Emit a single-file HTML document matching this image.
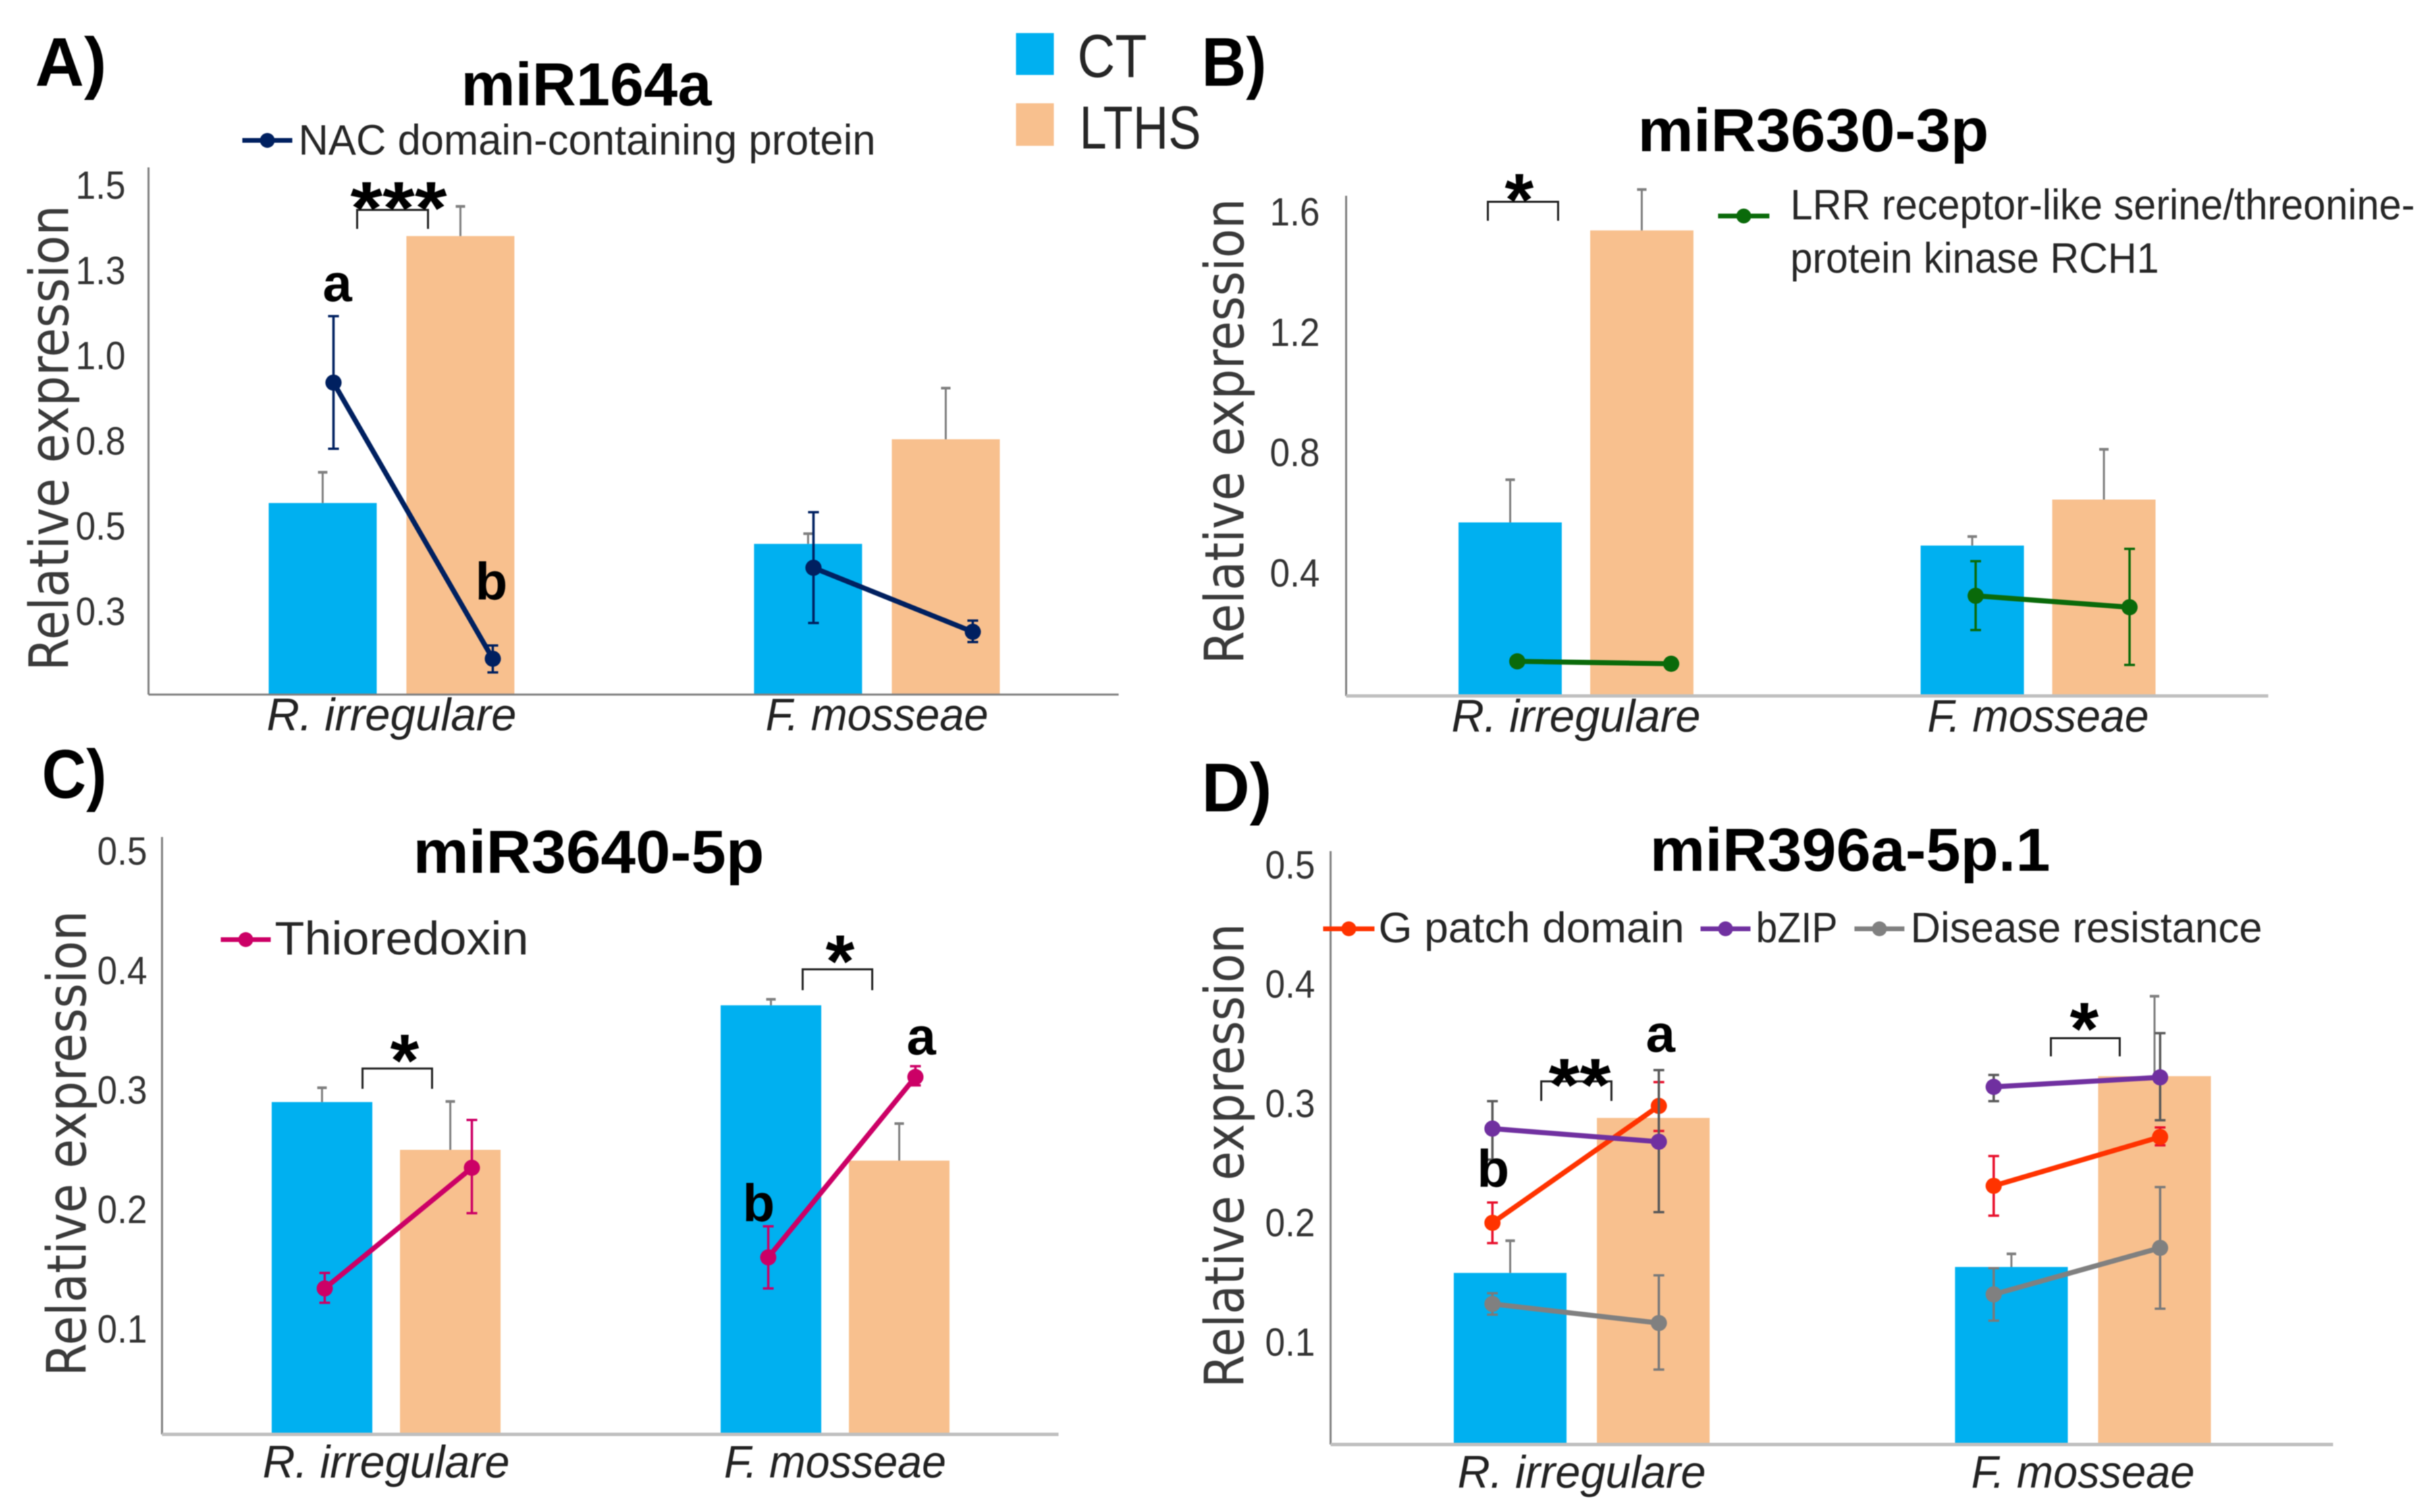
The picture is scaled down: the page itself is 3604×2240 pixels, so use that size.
<!DOCTYPE html>
<html lang="en">
<head>
<meta charset="utf-8">
<title>miRNA relative expression panels</title>
<style>
html,body{margin:0;padding:0;background:#fff;}
svg{display:block;filter:blur(0.7px);}
text{font-family:"Liberation Sans",sans-serif;}
.panel-letter,.chart-title{font-weight:bold;fill:#000;}
.panel-letter{font-size:102px;}
.chart-title{font-size:90px;}
.legend-text{font-size:63px;fill:#262626;}
.y-title{font-family:"DejaVu Sans",sans-serif;font-size:80px;fill:#3a3a3a;}
.sig{font-weight:bold;font-size:110px;fill:#000;}
.sig-letter{font-weight:bold;font-size:78px;fill:#000;}
.bracket{fill:none;stroke:#222;stroke-width:3;}
</style>
</head>
<body>
<svg id="figure" xmlns="http://www.w3.org/2000/svg" width="3604" height="2240" viewBox="0 0 3604 2240">
<rect x="0" y="0" width="3604" height="2240" fill="#fff"/>

<text class="panel-letter" x="52" y="127" textLength="106" lengthAdjust="spacingAndGlyphs">A)</text>
<text class="panel-letter" x="1780" y="127" textLength="96" lengthAdjust="spacingAndGlyphs">B)</text>
<text class="panel-letter" x="62" y="1182" textLength="96" lengthAdjust="spacingAndGlyphs">C)</text>
<text class="panel-letter" x="1780" y="1202" textLength="104" lengthAdjust="spacingAndGlyphs">D)</text>

<text class="chart-title" x="683" y="156" textLength="371" lengthAdjust="spacingAndGlyphs">miR164a</text>
<text class="chart-title" x="2426" y="224" textLength="520" lengthAdjust="spacingAndGlyphs">miR3630-3p</text>
<text class="chart-title" x="612" y="1293" textLength="520" lengthAdjust="spacingAndGlyphs">miR3640-5p</text>
<text class="chart-title" x="2444" y="1290" textLength="593" lengthAdjust="spacingAndGlyphs">miR396a-5p.1</text>

<g>
  <rect x="1505" y="49" width="56" height="62" fill="#00b0f0"/>
  <text x="1596" y="114" font-size="90" fill="#262626" textLength="103" lengthAdjust="spacingAndGlyphs">CT</text>
  <rect x="1505" y="153" width="56" height="63" fill="#f8c08e"/>
  <text x="1599" y="220" font-size="90" fill="#262626" textLength="180" lengthAdjust="spacingAndGlyphs">LTHS</text>
</g>

<text class="y-title" transform="translate(101,994) rotate(-90)" textLength="690" lengthAdjust="spacingAndGlyphs">Relative expression</text>
<text class="y-title" transform="translate(1842,984) rotate(-90)" textLength="690" lengthAdjust="spacingAndGlyphs">Relative expression</text>
<text class="y-title" transform="translate(127,2039) rotate(-90)" textLength="690" lengthAdjust="spacingAndGlyphs">Relative expression</text>
<text class="y-title" transform="translate(1842,2056) rotate(-90)" textLength="688" lengthAdjust="spacingAndGlyphs">Relative expression</text>

<g id="marks"></g>

<g>
  <line x1="359" y1="208" x2="433" y2="208" stroke="#002060" stroke-width="7"/>
  <circle cx="396" cy="208" r="11" fill="#002060"/>
  <text class="legend-text" x="442" y="229" textLength="855" lengthAdjust="spacingAndGlyphs">NAC domain-containing protein</text>
</g>
<g>
  <line x1="2545" y1="320" x2="2621" y2="320" stroke="#0a6a0a" stroke-width="7"/>
  <circle cx="2583" cy="320" r="11" fill="#0a6a0a"/>
  <text class="legend-text" x="2652" y="325" textLength="925" lengthAdjust="spacingAndGlyphs">LRR receptor-like serine/threonine-</text>
  <text class="legend-text" x="2652" y="404" textLength="546" lengthAdjust="spacingAndGlyphs">protein kinase RCH1</text>
</g>
<g>
  <line x1="327" y1="1392" x2="401" y2="1392" stroke="#cc0066" stroke-width="7"/>
  <circle cx="364" cy="1392" r="11" fill="#cc0066"/>
  <text class="legend-text" x="407" y="1414" font-size="70" textLength="376" lengthAdjust="spacingAndGlyphs" style="font-size:70px">Thioredoxin</text>
</g>
<g>
  <line x1="1960" y1="1376" x2="2036" y2="1376" stroke="#ff3300" stroke-width="7"/>
  <circle cx="1998" cy="1376" r="11" fill="#ff3300"/>
  <text class="legend-text" x="2042" y="1396" textLength="453" lengthAdjust="spacingAndGlyphs">G patch domain</text>
  <line x1="2519" y1="1376" x2="2593" y2="1376" stroke="#7030a0" stroke-width="7"/>
  <circle cx="2556" cy="1376" r="11" fill="#7030a0"/>
  <text class="legend-text" x="2601" y="1396" textLength="121" lengthAdjust="spacingAndGlyphs">bZIP</text>
  <line x1="2747" y1="1376" x2="2821" y2="1376" stroke="#808080" stroke-width="7"/>
  <circle cx="2784" cy="1376" r="11" fill="#808080"/>
  <text class="legend-text" x="2830" y="1396" textLength="521" lengthAdjust="spacingAndGlyphs">Disease resistance</text>
</g>

<g>
  <path class="bracket" d="M529 339V311H634V339"/>
  <text class="sig" x="519" y="346" textLength="143" lengthAdjust="spacingAndGlyphs">***</text>
  <text class="sig-letter" x="478" y="446">a</text>
  <text class="sig-letter" x="704" y="888">b</text>
</g>
<g>
  <path class="bracket" d="M2204 327V299H2308V327"/>
  <text class="sig" x="2229" y="334">*</text>
</g>
<g>
  <path class="bracket" d="M537 1613V1583H640V1613"/>
  <text class="sig" x="578" y="1609">*</text>
  <path class="bracket" d="M1189 1467V1436H1292V1467"/>
  <text class="sig" x="1223" y="1462">*</text>
  <text class="sig-letter" x="1343" y="1562">a</text>
  <text class="sig-letter" x="1100" y="1809">b</text>
</g>
<g>
  <path class="bracket" d="M2283 1631V1602H2387V1631"/>
  <text class="sig" x="2294" y="1645" textLength="92" lengthAdjust="spacingAndGlyphs">**</text>
  <path class="bracket" d="M3038 1565V1538H3140V1565"/>
  <text class="sig" x="3066" y="1562">*</text>
  <text class="sig-letter" x="2438" y="1558">a</text>
  <text class="sig-letter" x="2188" y="1758">b</text>
</g>
</svg>

<script>
// ---- shared data ----
const categories = ['R. irregulare', 'F. mosseae'];

// ---- panel A: miR164a ----
const aTicks = [0.25, 0.5, 0.75, 1.0, 1.25, 1.5];
const aTickLabels = ['0.3', '0.5', '0.8', '1.0', '1.3', '1.5'];
const aBarCT = [0.568, 0.448];
const aBarCTTop = [0.658, 0.478];
const aBarLTHS = [1.351, 0.755];
const aBarLTHSTop = [1.438, 0.905];
const aNac = [0.921, 0.111, 0.378, 0.190];
const aNacHigh = [1.116, 0.150, 0.541, 0.223];
const aNacLow = [0.727, 0.071, 0.216, 0.160];

// ---- panel B: miR3630-3p ----
const bTicks = [0.4, 0.8, 1.2, 1.6];
const bTickLabels = ['0.4', '0.8', '1.2', '1.6'];
const bBarCT = [0.568, 0.491];
const bBarCTTop = [0.710, 0.521];
const bBarLTHS = [1.539, 0.644];
const bBarLTHSTop = [1.675, 0.811];
const bLrr = [0.106, 0.098, 0.324, 0.286];
const bLrrHigh = [0.106, 0.098, 0.439, 0.480];
const bLrrLow = [0.106, 0.098, 0.210, 0.094];

// ---- panel C: miR3640-5p ----
const cTicks = [0.1, 0.2, 0.3, 0.4, 0.5];
const cTickLabels = ['0.1', '0.2', '0.3', '0.4', '0.5'];
const cBarCT = [0.290, 0.371];
const cBarCTTop = [0.302, 0.376];
const cBarLTHS = [0.250, 0.241];
const cBarLTHSTop = [0.2905, 0.272];
const cThio = [0.134, 0.235, 0.160, 0.311];
const cThioHigh = [0.147, 0.275, 0.186, 0.320];
const cThioLow = [0.122, 0.197, 0.134, 0.304];

// ---- panel D: miR396a-5p.1 ----
const dTicks = [0.1, 0.2, 0.3, 0.4, 0.5];
const dTickLabels = ['0.1', '0.2', '0.3', '0.4', '0.5'];
const dBarCT = [0.158, 0.163];
const dBarCTTop = [0.185, 0.174];
const dBarLTHS = [0.288, 0.323];
const dBarLTHSTop = [0.288, 0.390];
const dGPatch = [0.200, 0.298, 0.231, 0.272];
const dGPatchHigh = [0.217, 0.318, 0.256, 0.280];
const dGPatchLow = [0.183, 0.277, 0.206, 0.265];
const dBzip = [0.279, 0.268, 0.314, 0.322];
const dBzipHigh = [0.302, 0.328, 0.324, 0.359];
const dBzipLow = [0.253, 0.209, 0.302, 0.286];
const dDisease = [0.132, 0.116, 0.140, 0.179];
const dDiseaseHigh = [0.141, 0.156, 0.162, 0.230];
const dDiseaseLow = [0.123, 0.077, 0.118, 0.128];

const NS = 'http://www.w3.org/2000/svg';
const root = document.getElementById('marks');

function make(tag, geometry, parent) {
  const el = document.createElementNS(NS, tag);
  Object.keys(geometry).forEach(function (k) { el.setAttribute(k, geometry[k]); });
  parent.appendChild(el);
  return el;
}

function drawErrorBar(parent, x, yTop, yBottom, color, width, cap, key) {
  if (Math.abs(yTop - yBottom) < 0.5) return;
  const stem = make('line', {x1: x, x2: x, y1: yTop, y2: yBottom, stroke: color, 'stroke-width': width}, parent);
  
  
  const capTop = make('line', {x1: x - cap, x2: x + cap, y1: yTop, y2: yTop, stroke: color, 'stroke-width': width}, parent);
  
  
  const capBottom = make('line', {x1: x - cap, x2: x + cap, y1: yBottom, y2: yBottom, stroke: color, 'stroke-width': width}, parent);
  
  
}

function drawPanel(p) {
  const g = make('g', {}, root);
  
  

  // axis functions
  const yOf = function (v) { return p.yZero - p.yScale * v; };
  const barCenter = function (cat, series) {
    return p.barGroups[0] + cat * p.barGroups[1] + (series === 0 ? -1 : 1) * p.barSpacing / 2;
  };
  const lineX = function (cat, series) {
    return p.lineGroups[0] + cat * p.lineGroups[1] + (series === 0 ? -1 : 1) * p.lineSpacing / 2;
  };

  // bars
  const barSeries = [
    {name: 'ct', values: p.ct, tops: p.ctTop, fill: '#00b0f0'},
    {name: 'lths', values: p.lths, tops: p.lthsTop, fill: '#f8c08e'}
  ];
  barSeries.forEach(function (s, si) {
    s.values.forEach(function (v, ci) {
      const cx = barCenter(ci, si);
      const top = yOf(v);
      const bar = make('rect', {x: cx - p.barWidth / 2, y: top, width: p.barWidth, height: p.baseY - top, fill: s.fill}, g);
      
      
      const errTop = yOf(s.tops[ci]);
      if (top - errTop > 0.5) {
        const stem = make('line', {x1: cx, x2: cx, y1: errTop, y2: top, stroke: '#7f7f7f', 'stroke-width': 3}, g);
        
        
        const cap = make('line', {x1: cx - 7, x2: cx + 7, y1: errTop, y2: errTop, stroke: '#7f7f7f', 'stroke-width': 4}, g);
        
        
      }
    });
  });

  // axes
  const yAxis = make('line', {x1: p.axisX, x2: p.axisX, y1: p.axisTop, y2: p.baseY, stroke: '#808080', 'stroke-width': 3}, g);
  
  
  const xAxis = make('line', {x1: p.axisX, x2: p.axisEnd, y1: p.baseY, y2: p.baseY, stroke: p.baseColor, 'stroke-width': p.baseWidth}, g);
  
  

  // y tick labels
  p.ticks.forEach(function (t, i) {
    const label = make('text', {x: p.tickX, y: yOf(t) + 20, 'font-size': 58, fill: '#333', textLength: 74, lengthAdjust: 'spacingAndGlyphs'}, g);
    label.textContent = p.tickLabels[i];
    
    
  });

  // x category labels
  categories.forEach(function (c, i) {
    const center = p.barGroups[0] + i * p.barGroups[1];
    const label = make('text', {x: center, y: p.xLabelY, 'text-anchor': 'middle', 'font-size': 68, 'font-style': 'italic', fill: '#222', textLength: p.xLabelWidths[i], lengthAdjust: 'spacingAndGlyphs'}, g);
    label.textContent = c;
    
    
  });

  // line series: each value array is [cat0-CT, cat0-LTHS, cat1-CT, cat1-LTHS]
  p.lines.forEach(function (s) {
    categories.forEach(function (c, ci) {
      const xA = lineX(ci, 0);
      const xB = lineX(ci, 1);
      const vA = s.values[ci * 2];
      const vB = s.values[ci * 2 + 1];
      drawErrorBar(g, xA, yOf(s.high[ci * 2]), yOf(s.low[ci * 2]), s.err, 3.5, 8, p.id + '-' + s.name + '-' + ci + '-ct');
      drawErrorBar(g, xB, yOf(s.high[ci * 2 + 1]), yOf(s.low[ci * 2 + 1]), s.err, 3.5, 8, p.id + '-' + s.name + '-' + ci + '-lths');
      const seg = make('line', {x1: xA, x2: xB, y1: yOf(vA), y2: yOf(vB), stroke: s.color, 'stroke-width': 7.5}, g);
      
      
      const dotA = make('circle', {cx: xA, cy: yOf(vA), r: 12, fill: s.color}, g);
      
      
      const dotB = make('circle', {cx: xB, cy: yOf(vB), r: 12, fill: s.color}, g);
      
      
    });
  });
}

drawPanel({
  id: 'mir164a', ticks: aTicks, tickLabels: aTickLabels,
  ct: aBarCT, ctTop: aBarCTTop, lths: aBarLTHS, lthsTop: aBarLTHSTop,
  lines: [{name: 'nac', values: aNac, high: aNacHigh, low: aNacLow, color: '#002060', err: '#002060'}],
  yZero: 1032, yScale: 505, baseY: 1029, axisX: 220, axisTop: 248, axisEnd: 1657,
  baseColor: '#808080', baseWidth: 3, tickX: 112,
  barGroups: [580, 719], barSpacing: 204, barWidth: 160,
  lineGroups: [612, 711], lineSpacing: 236,
  xLabelY: 1082, xLabelWidths: [370, 330]
});

drawPanel({
  id: 'mir3630', ticks: bTicks, tickLabels: bTickLabels,
  ct: bBarCT, ctTop: bBarCTTop, lths: bBarLTHS, lthsTop: bBarLTHSTop,
  lines: [{name: 'lrr', values: bLrr, high: bLrrHigh, low: bLrrLow, color: '#0a6a0a', err: '#0a6a0a'}],
  yZero: 1027, yScale: 445.5, baseY: 1031, axisX: 1994, axisTop: 290, axisEnd: 3360,
  baseColor: '#bfbfbf', baseWidth: 5, tickX: 1881,
  barGroups: [2334.5, 684.5], barSpacing: 195, barWidth: 153,
  lineGroups: [2361.5, 679], lineSpacing: 228,
  xLabelY: 1084, xLabelWidths: [369, 328]
});

drawPanel({
  id: 'mir3640', ticks: cTicks, tickLabels: cTickLabels,
  ct: cBarCT, ctTop: cBarCTTop, lths: cBarLTHS, lthsTop: cBarLTHSTop,
  lines: [{name: 'thioredoxin', values: cThio, high: cThioHigh, low: cThioLow, color: '#cc0066', err: '#cc0066'}],
  yZero: 2146, yScale: 1770, baseY: 2125, axisX: 240, axisTop: 1240, axisEnd: 1568,
  baseColor: '#bfbfbf', baseWidth: 5, tickX: 144,
  barGroups: [572, 665], barSpacing: 190, barWidth: 149,
  lineGroups: [590, 657], lineSpacing: 218,
  xLabelY: 2189, xLabelWidths: [366, 329]
});

drawPanel({
  id: 'mir396a', ticks: dTicks, tickLabels: dTickLabels,
  ct: dBarCT, ctTop: dBarCTTop, lths: dBarLTHS, lthsTop: dBarLTHSTop,
  lines: [
    {name: 'disease-resistance', values: dDisease, high: dDiseaseHigh, low: dDiseaseLow, color: '#808080', err: '#7a7a7a'},
    {name: 'g-patch', values: dGPatch, high: dGPatchHigh, low: dGPatchLow, color: '#ff3300', err: '#e8112d'},
    {name: 'bzip', values: dBzip, high: dBzipHigh, low: dBzipLow, color: '#7030a0', err: '#595959'}
  ],
  yZero: 2165, yScale: 1767, baseY: 2140, axisX: 1971, axisTop: 1261, axisEnd: 3456,
  baseColor: '#bfbfbf', baseWidth: 5, tickX: 1874,
  barGroups: [2343, 742.5], barSpacing: 212, barWidth: 167,
  lineGroups: [2334, 742.5], lineSpacing: 246.5,
  xLabelY: 2204, xLabelWidths: [368, 331]
});
</script>
</body>
</html>
